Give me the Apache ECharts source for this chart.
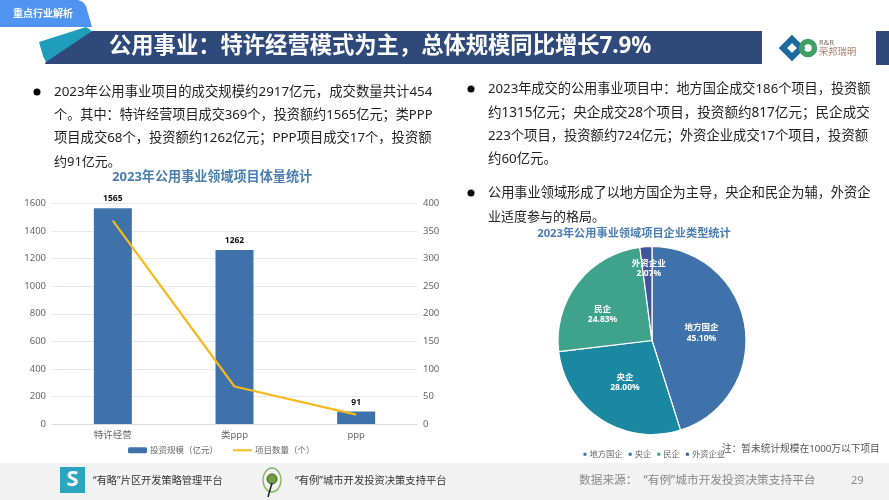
<!DOCTYPE html>
<html><head><meta charset="utf-8">
<style>html,body{margin:0;padding:0;background:#fff}#c{width:889px;height:500px}</style>
<script src="https://cdn.jsdelivr.net/npm/echarts@6/dist/echarts.min.js"></script>
</head><body><div id="c"></div>
<script>
const categories = ['特许经营','类ppp','ppp'];
const investment = [1565,1262,91];
const projectCount = [369,68,17];
const pieNames = ['地方国企','央企','民企','外资企业'];
const pieValues = [45.10,28.00,24.83,2.07];
const pieColors = ['#3F72AB','#1A88A0','#3FA38C','#3F5595'];
const pieLabelOffsets = [[0,0],[0,0],[-10,5],[0,-22]];
const leftLines = [
 '2023年公用事业项目的成交规模约2917亿元，成交数量共计454',
 '个。其中：特许经营项目成交369个，投资额约1565亿元；类PPP',
 '项目成交68个，投资额约1262亿元；PPP项目成交17个，投资额',
 '约91亿元。'];
const rightLines = [
 '2023年成交的公用事业项目中：地方国企成交186个项目，投资额',
 '约1315亿元；央企成交28个项目，投资额约817亿元；民企成交',
 '223个项目，投资额约724亿元；外资企业成交17个项目，投资额',
 '约60亿元。',
 '公用事业领域形成了以地方国企为主导，央企和民企为辅，外资企',
 '业适度参与的格局。'];
const leftY = [92,115,138,162];
const rightY = [89,113,136,159,193,217];
const leftSizes = [13.39,13.15,13.3,13];
const rightSizes = [13.2,13.57,13.3,13.4,13.2,13];
const FF = '"Noto Sans","Noto Sans CJK SC",sans-serif';

function txt(x,y,t,size,color,extra){
  return {type:'text',x:x,y:y,silent:true,style:Object.assign({text:t,fontSize:size,fontFamily:FF,fill:color,verticalAlign:'middle',align:'left'},extra||{})};
}
function dot(x,y){return {type:'circle',silent:true,shape:{cx:x,cy:y,r:3.5},style:{fill:'#000'}};}

const graphics = [
 {type:'rect',silent:true,z:-1,shape:{x:0,y:463,width:889,height:37},style:{fill:'#F2F2F2'}},
 {type:'polygon',silent:true,shape:{points:[[45,64],[762,64],[762,31],[92,31],[50,50]]},style:{fill:'#2F4A7A'}},
 {type:'polygon',silent:true,shape:{points:[[39,42],[86,27],[92,31],[46,62],[43,56]]},style:{fill:'#1F9DBB'}},
 {type:'rect',silent:true,shape:{x:876,y:31,width:13,height:34},style:{fill:'#2F4A7A'}},
 {type:'polygon',silent:true,shape:{points:[[0,0],[78,0],[83,2],[86,6],[92,27],[0,27]]},style:{fill:'#4F94F0'}},
 txt(13,14,'重点行业解析',10,'#fff',{fontWeight:'bold'}),
 txt(109,47,'公用事业：特许经营模式为主，总体规模同比增长7.9%',22.3,'#fff',{fontWeight:'bold'}),
 {type:'polygon',silent:true,shape:{points:[[792,39],[801,48],[792,57],[783,48]]},style:{fill:'none',stroke:'#1A6AA0',lineWidth:6}},
 {type:'circle',silent:true,shape:{cx:808,cy:48,r:6.5},style:{fill:'none',stroke:'#3E9F63',lineWidth:5.5}},
 txt(819,43,'R&R',7.5,'#7A6A60'),
 txt(819,52,'荣邦瑞明',9.3,'#A57F6E'),
 dot(37,92),dot(471,89),dot(471,193),
 {type:'rect',silent:true,shape:{x:60,y:467,width:25,height:26},style:{fill:'#2AA7BE'}},
 txt(72.5,480,'S',22,'#fff',{fontWeight:'bold',align:'center'}),
 {type:'ellipse',silent:true,shape:{cx:272,cy:480,rx:9,ry:12},style:{fill:'none',stroke:'#8DB86A',lineWidth:1.5}},
 {type:'circle',silent:true,shape:{cx:272,cy:479,r:5},style:{fill:'#6FA040',stroke:'#3C5A28',lineWidth:1}},
 {type:'line',silent:true,shape:{x1:272,y1:483,x2:268,y2:497},style:{stroke:'#222',lineWidth:1.5}},
 txt(93,481,'“有略”片区开发策略管理平台',10.2,'#333'),
 txt(295,481,'“有例”城市开发投资决策支持平台',10.3,'#333'),
 txt(579,481,'数据来源：  “有例”城市开发投资决策支持平台',11.7,'#888'),
 txt(851,481,'29',11,'#888'),
 txt(722,449,'注：暂未统计规模在1000万以下项目',9.7,'#555')
];
leftLines.forEach((l,i)=>graphics.push(txt(54,leftY[i],l,leftSizes[i],'#222')));
rightLines.forEach((l,i)=>graphics.push(txt(488,rightY[i],l,rightSizes[i],'#222')));

const chart = echarts.init(document.getElementById('c'),null,{renderer:'canvas'});
chart.setOption({
 animation:false,
 textStyle:{fontFamily:FF},
 title:[
  {text:'2023年公用事业领域项目体量统计',left:212,top:170.5,padding:0,textAlign:'center',textStyle:{fontSize:13.1,fontWeight:'bold',color:'#4A7DB0',fontFamily:FF}},
  {text:'2023年公用事业领域项目企业类型统计',left:634,top:228,padding:0,textAlign:'center',textStyle:{fontSize:11.2,fontWeight:'bold',color:'#4A7DB0',fontFamily:FF}}
 ],
 grid:{left:52,right:472,top:203.5,bottom:76},
 legend:[
  {left:128,top:446,padding:0,itemWidth:19,itemHeight:6,itemGap:15,
   data:[{name:'投资规模（亿元）'},{name:'项目数量（个）',icon:'path://M0 0H40V4H0Z'}],
   textStyle:{fontSize:8.5,color:'#666',padding:[0,0,0,-2]}},
  {left:581.5,top:450,padding:0,itemWidth:5,itemHeight:5,itemGap:4,icon:'rect',data:pieNames,textStyle:{fontSize:8.3,color:'#666',padding:[0,0,0,-3]}}
 ],
 xAxis:{type:'category',data:categories,axisTick:{show:false},axisLine:{lineStyle:{color:'#D9DCE3'}},axisLabel:{fontSize:9.5,color:'#666',margin:7}},
 yAxis:[
  {type:'value',min:0,max:1600,interval:200,axisLabel:{fontSize:9.5,color:'#666',margin:6,formatter:v=>String(v)},splitLine:{lineStyle:{color:'#E6E8EE'}},axisLine:{show:false},axisTick:{show:false}},
  {type:'value',min:0,max:400,interval:50,axisLabel:{fontSize:9.5,color:'#666',margin:6,formatter:v=>String(v)},splitLine:{show:false},axisLine:{show:false},axisTick:{show:false}}
 ],
 series:[
  {name:'投资规模（亿元）',type:'bar',data:investment,barWidth:38,itemStyle:{color:'#3F72AB'},label:{show:true,position:'top',distance:5,fontSize:8.5,fontWeight:'bold',color:'#111',formatter:'{c}'}},
  {name:'项目数量（个）',type:'line',yAxisIndex:1,data:projectCount,symbol:'none',lineStyle:{color:'#F5B91B',width:2.2},itemStyle:{color:'#F5B91B'}},
  {type:'pie',center:[652,340.5],radius:[0,94],startAngle:90,clockwise:true,
   data:pieNames.map((n,i)=>({name:n,value:pieValues[i],itemStyle:{color:pieColors[i]},label:{offset:pieLabelOffsets[i]}})),
   itemStyle:{borderColor:'#fff',borderWidth:1.2},
   label:{show:true,position:'inside',color:'#fff',fontSize:8.5,fontWeight:'bold',lineHeight:10.5,
     formatter:p=>p.name+'\n'+p.value.toFixed(2)+'%'},
   labelLine:{show:false}}
 ],
 graphic:{elements:graphics}
});
</script></body></html>
